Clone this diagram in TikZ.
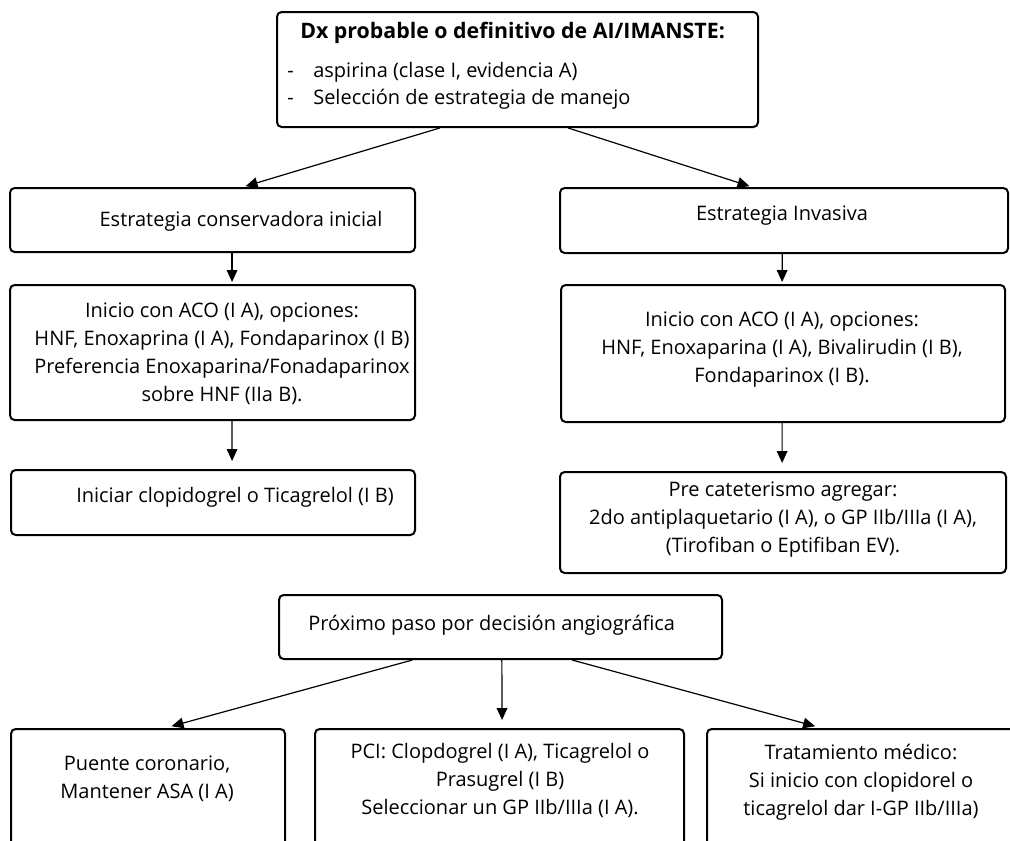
\documentclass[tikz,border=0pt]{standalone}
\usepackage{fontspec}
\setmainfont{Open Sans}
\usetikzlibrary{fit,calc,arrows.meta}
\begin{document}
\begin{tikzpicture}[x=0.75pt,y=-0.75pt,
  box/.style={draw,line width=1.5pt,rounded corners=3.5pt,inner sep=0pt},
  txt/.style={align=center,inner sep=0pt,font=\fontsize{15}{21}\selectfont},
  arr/.style={line width=0.9pt,-{Triangle[length=9pt,width=8pt]}}]
\useasboundingbox (0,0) rectangle (1010,840);
\clip (0,0) rectangle (1010,840);

% boxes
\node[box,fit={(277,12)(758,127)}] (dx) {};
\node[box,fit={(10,188)(415,252)}] (cons) {};
\node[box,fit={(560,188)(1008,253)}] (inv) {};
\node[box,fit={(10,285)(415,420)}] (acoL) {};
\node[box,fit={(561,285)(1005,422)}] (acoR) {};
\node[box,fit={(11,470)(415,535)}] (clop) {};
\node[box,fit={(560,472)(1006,573)}] (pre) {};
\node[box,fit={(279,595)(722,659)}] (prox) {};
\node[box,fit={(11,729)(285,880)}] (puente) {};
\node[box,fit={(315,729)(684,880)}] (pci) {};
\node[box,fit={(707,729)(1040,880)}] (trat) {};

% texts
\node[anchor=west,inner sep=0pt,font=\fontsize{16}{21}\selectfont\bfseries] (dxt) at (300,33) {Dx probable o definitivo de AI/IMANSTE:};
\node[anchor=base west,txt] (d1) at (287,77) {-};
\node[anchor=base west,txt] (l1) at (313,77) {aspirina (clase I, evidencia A)};
\node[anchor=base west,txt] (d2) at (287,104) {-};
\node[anchor=base west,txt] (l2) at (313,104) {Selección de estrategia de manejo};
\node[txt] (t-cons) at (241,221) {Estrategia conservadora inicial};
\node[txt] (t-inv) at (782,216) {Estrategia Invasiva};
\node[txt] (t-acoL) at (222,354) {Inicio con ACO (I A), opciones:\\HNF, Enoxaprina (I A), Fondaparinox (I B)\\Preferencia Enoxaparina/Fonadaparinox\\sobre HNF (IIa B).};
\node[txt] (t-acoR) at (782,350) {Inicio con ACO (I A), opciones:\\HNF, Enoxaparina (I A), Bivalirudin (I B),\\Fondaparinox (I B).};
\node[txt] (t-clop) at (235,497) {Iniciar clopidogrel o Ticagrelol (I B)};
\node[txt] (t-pre) at (783,520) {Pre cateterismo agregar:\\2do antiplaquetario (I A), o GP IIb/IIIa (I A),\\(Tirofiban o Eptifiban EV).};
\node[txt,anchor=west] (t-prox) at (308,625) {Próximo paso por decisión angiográfica};
\node[txt] (t-puente) at (147,779) {Puente coronario,\\Mantener ASA (I A)};
\node[txt] (t-pci) at (500,780) {PCI: Clopdogrel (I A), Ticagrelol o\\Prasugrel (I B)\\Seleccionar un GP IIb/IIIa (I A).};
\node[txt] (t-trat) at (861,782) {Tratamiento médico:\\Si inicio con clopidorel o\\ticagrelol dar I-GP IIb/IIIa)};

% connectors
\draw[arr,shorten >=2pt] ($(dx.south west)!0.339!(dx.south east)$) -- ($(cons.north west)!0.575!(cons.north east)$);
\draw[arr,shorten >=2pt] ($(dx.south west)!0.605!(dx.south east)$) -- ($(inv.north west)!0.429!(inv.north east)$);
\draw[arr,shorten >=1.5pt] ($(cons.south west)!0.548!(cons.south east)$) -- ($(acoL.north west)!0.548!(acoL.north east)$);
\draw[arr,shorten >=6pt] ($(acoL.south west)!0.548!(acoL.south east)$) -- ($(clop.north west)!0.547!(clop.north east)$);
\draw[arr,shorten >=1.5pt] ($(inv.south west)!0.496!(inv.south east)$) -- ($(acoR.north west)!0.498!(acoR.north east)$);
\draw[arr,shorten >=6pt] ($(acoR.south west)!0.498!(acoR.south east)$) -- ($(pre.north west)!0.498!(pre.north east)$);
\draw[arr,shorten >=5pt] ($(prox.south west)!0.302!(prox.south east)$) -- ($(puente.north west)!0.562!(puente.north east)$);
\draw[arr,shorten >=6pt] ($(prox.south west)!0.503!(prox.south east)$) -- ($(pci.north west)!0.507!(pci.north east)$);
\draw[arr,shorten >=5pt] ($(prox.south west)!0.661!(prox.south east)$) -- ($(trat.north west)!0.345!(trat.north east)$);
\end{tikzpicture}
\end{document}
